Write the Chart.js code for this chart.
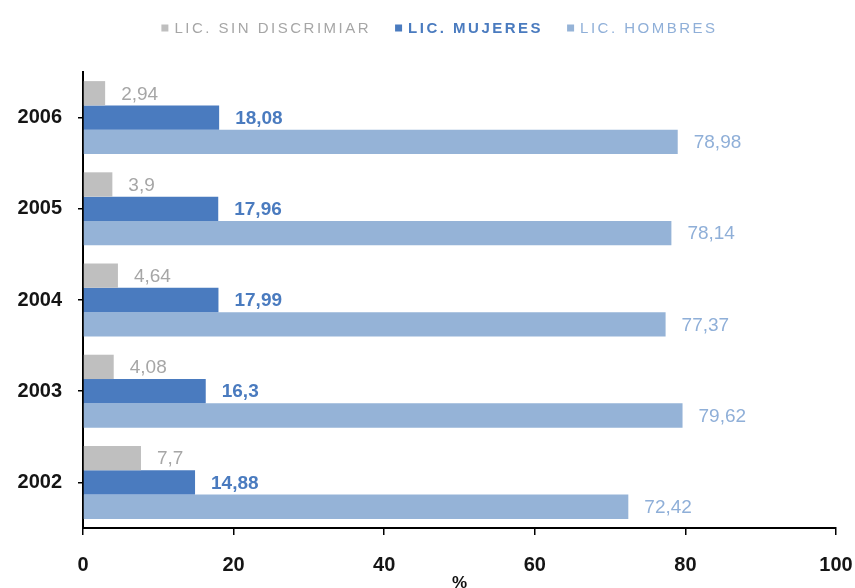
<!DOCTYPE html>
<html><head><meta charset="utf-8">
<script src="https://cdn.jsdelivr.net/npm/chart.js@4/dist/chart.umd.min.js"></script>
<style>html,body{margin:0;padding:0;background:#fff}#wrap{width:855px;height:588px}</style>
</head><body><div id="wrap"><canvas id="c" width="855" height="588"></canvas></div>
<script>
const categories = ['2006','2005','2004','2003','2002'];
const sinDiscriminar = [2.94, 3.9, 4.64, 4.08, 7.7];
const mujeres = [18.08, 17.96, 17.99, 16.3, 14.88];
const hombres = [78.98, 78.14, 77.37, 79.62, 72.42];
const seriesNames = ['LIC. SIN DISCRIMIAR', 'LIC. MUJERES', 'LIC. HOMBRES'];
const xTicks = [0, 20, 40, 60, 80, 100];
const axisTitle = '%';

const barColors = ['#bfbfbf', '#4a7bbf', '#95b3d7'];
const labelColors = ['#a6a6a6', '#4a7bbf', '#8fafd8'];
const FONT = '"Liberation Sans", Arial, sans-serif';

const valueLabels = {
  id: 'valueLabels',
  afterDatasetsDraw(chart) {
    const ctx = chart.ctx;
    ctx.save();
    chart.data.datasets.forEach((ds, i) => {
      const meta = chart.getDatasetMeta(i);
      meta.data.forEach((bar, j) => {
        ctx.font = (i === 1 ? 'bold ' : '') + '19px ' + FONT;
        ctx.fillStyle = labelColors[i];
        ctx.textAlign = 'left';
        ctx.textBaseline = 'middle';
        ctx.fillText(String(ds.data[j]).replace('.', ','), bar.x + 16, bar.y + 1);
      });
    });
    const xs = chart.scales.x;
    ctx.font = 'bold 17px ' + FONT;
    ctx.fillStyle = '#111';
    ctx.textAlign = 'center';
    ctx.textBaseline = 'top';
    ctx.fillText(axisTitle, (xs.left + xs.right) / 2, 575);
    ctx.restore();
  }
};

const customLegend = {
  id: 'customLegend',
  afterDraw(chart) {
    const ctx = chart.ctx;
    ctx.save();
    ctx.letterSpacing = '2.5px';
    ctx.textBaseline = 'middle';
    ctx.textAlign = 'left';
    const gap = 24, box = 7, boxGap = 6, y = 29;
    const items = chart.data.datasets.map((ds, i) => {
      ctx.font = (i === 1 ? 'bold ' : '') + '15px ' + FONT;
      return { text: ds.label, w: ctx.measureText(ds.label).width, i };
    });
    const total = items.reduce((s, it) => s + box + boxGap + it.w, 0) + gap * (items.length - 1);
    let x = (chart.width - total) / 2 + 12;
    items.forEach(it => {
      ctx.fillStyle = barColors[it.i];
      ctx.fillRect(x, y - box / 2 - 1, box, box);
      x += box + boxGap;
      ctx.font = (it.i === 1 ? 'bold ' : '') + '15px ' + FONT;
      ctx.fillStyle = labelColors[it.i];
      ctx.fillText(it.text, x, y);
      x += it.w + gap;
    });
    ctx.restore();
  }
};

new Chart(document.getElementById('c'), {
  type: 'bar',
  data: {
    labels: categories,
    datasets: [
      { label: seriesNames[0], data: sinDiscriminar, backgroundColor: barColors[0] },
      { label: seriesNames[1], data: mujeres, backgroundColor: barColors[1] },
      { label: seriesNames[2], data: hombres, backgroundColor: barColors[2] }
    ]
  },
  options: {
    indexAxis: 'y',
    responsive: false,
    animation: false,
    datasets: { bar: { categoryPercentage: 0.8, barPercentage: 1.0 } },
    layout: { padding: { left: 0, right: 19, top: 72, bottom: 11 } },
    plugins: {
      tooltip: { enabled: false },
      legend: { display: false }
    },
    scales: {
      x: {
        min: 0, max: 100,
        afterBuildTicks(scale) { scale.ticks = xTicks.map(v => ({ value: v })); },
        afterFit(scale) { scale.height = 49; scale.paddingRight = 0; scale.paddingLeft = 0; },
        grid: { display: true, drawOnChartArea: false, drawTicks: true, tickLength: 7, color: '#000', lineWidth: 1.5 },
        border: { display: true, color: '#000', width: 2 },
        ticks: { color: '#151515', padding: 18, font: { size: 20, weight: 'bold', family: FONT } }
      },
      y: {
        afterFit(scale) { scale.width = 83; },
        grid: { display: true, offset: false, drawOnChartArea: false, drawTicks: true, tickLength: 5, color: '#000', lineWidth: 1.5 },
        border: { display: true, color: '#000', width: 2 },
        ticks: { color: '#151515', padding: 16, font: { size: 20, weight: 'bold', family: FONT } }
      }
    }
  },
  plugins: [valueLabels, customLegend]
});
</script>
</body></html>
